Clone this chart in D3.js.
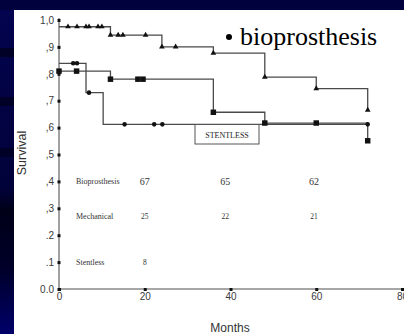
<!DOCTYPE html>
<html>
<head>
<meta charset="utf-8">
<script src="https://cdn.jsdelivr.net/npm/d3@7"></script>
<style>
  html, body { margin: 0; padding: 0; background: #02024f; }
  svg { display: block; }
</style>
</head>
<body>
<svg id="chart" width="404" height="334"></svg>
<script>
// Kaplan-Meier curves
const bioTimes = [0, 12, 24, 36, 48, 60, 72];
const bioSurv = [0.975, 0.944, 0.90, 0.877, 0.788, 0.745, 0.665];
const bioCensor = [2.1, 4.2, 6.3, 7, 9.1, 10, 12, 13.8, 14.9, 20.2, 24, 27.2, 36, 48, 60, 72];

const mechTimes = [0, 12, 36, 48, 72];
const mechSurv = [0.81, 0.78, 0.657, 0.617, 0.551];
const mechCensor = [0, 4.1, 12, 18.4, 19.6, 36, 48, 60, 72];

const stentTimes = [0, 6.3, 10.3, 72];
const stentSurv = [0.839, 0.73, 0.612, 0.612];
const stentCensor = [3.3, 4.2, 7, 15.3, 22.2, 24.1, 72];

const xTicks = [0, 20, 40, 60, 80];
const yTicks = [1, 0.9, 0.8, 0.7, 0.6, 0.5, 0.4, 0.3, 0.2, 0.1, 0];
const yTickLabels = ["1,0", ",9", ",8", ",7", ",6", ",5", ",4", ",3", ".2", ".1", "0.0"];

// patients at risk table
const rowNames = ["Bioprosthesis", "Mechanical", "Stentless"];
const rowLevels = [0.4, 0.27, 0.1];
const atRiskMonths = [20, 38.8, 59.5];
const atRisk = [[67, 65, 62], [25, 22, 21], [8]];

const svg = d3.select("#chart");

// slide background
svg.append("rect").attr("x", 0).attr("y", 0).attr("width", 404).attr("height", 334).attr("fill", "#02024f");
const grad = svg.append("defs").append("linearGradient")
    .attr("id", "side").attr("x1", 0).attr("y1", 0).attr("x2", 0).attr("y2", 1);
grad.append("stop").attr("offset", "0").attr("stop-color", "#03034f");
grad.append("stop").attr("offset", "0.55").attr("stop-color", "#02023a");
grad.append("stop").attr("offset", "0.62").attr("stop-color", "#000018");
grad.append("stop").attr("offset", "0.8").attr("stop-color", "#00002a");
grad.append("stop").attr("offset", "1").attr("stop-color", "#00006a");
svg.append("rect").attr("x", 0).attr("y", 10).attr("width", 14).attr("height", 324).attr("fill", "url(#side)");
svg.append("rect").attr("x", 0).attr("y", 0).attr("width", 404).attr("height", 10).attr("fill", "#01013e");
[48, 97, 148].forEach(y => {
    svg.append("rect").attr("x", 0).attr("y", y).attr("width", 14).attr("height", 9).attr("fill", "#010128");
});
svg.append("rect").attr("x", 14).attr("y", 10).attr("width", 390).attr("height", 324).attr("fill", "#ffffff");

const x = d3.scaleLinear().domain([0, 80]).range([59, 402]);
const y = d3.scaleLinear().domain([0, 1]).range([289, 20]);

// axes
const yAxis = svg.append("g")
    .attr("transform", `translate(${x(0)},0)`)
    .call(d3.axisLeft(y).tickValues(yTicks).tickSize(0).tickPadding(5)
        .tickFormat((d, i) => yTickLabels[i]));
const xAxis = svg.append("g")
    .attr("transform", `translate(0,${y(0)})`)
    .call(d3.axisBottom(x).tickValues(xTicks).tickSize(0).tickPadding(4));
[yAxis, xAxis].forEach(g => {
    g.select(".domain").attr("stroke", "#8a8a8a").attr("stroke-width", 1.6);
    g.selectAll("text")
        .attr("fill", "#3a3a3a")
        .style("font-family", "'Liberation Sans', Arial, sans-serif")
        .style("font-size", "10px");
});
yAxis.select(".domain").attr("d", `M0,${y(1) - 2}V${y(0)}`);
xAxis.select(".domain").attr("d", `M${x(0)},0H${x(80)}`);
yAxis.selectAll(".tick").append("rect")
    .attr("x", -1.5).attr("y", -1.5).attr("width", 3).attr("height", 3).attr("fill", "#111");
xAxis.selectAll(".tick").append("rect")
    .attr("x", -1.5).attr("y", -1).attr("width", 3).attr("height", 3).attr("fill", "#111");

svg.append("text")
    .attr("transform", `translate(26,153) rotate(-90)`)
    .attr("text-anchor", "middle")
    .attr("fill", "#333")
    .style("font-family", "'Liberation Sans', Arial, sans-serif")
    .style("font-size", "12.5px")
    .text("Survival");
svg.append("text")
    .attr("x", 230).attr("y", 332)
    .attr("text-anchor", "middle")
    .attr("fill", "#333")
    .style("font-family", "'Liberation Sans', Arial, sans-serif")
    .style("font-size", "12px")
    .text("Months");

// step curves
const line = d3.line()
    .x(d => x(d[0]))
    .y(d => y(d[1]))
    .curve(d3.curveStepAfter);

function survAt(times, surv, t) {
    const i = d3.bisectRight(times, t) - 1;
    return surv[Math.max(0, i)];
}

const series = [
    { times: bioTimes, surv: bioSurv, censor: bioCensor, symbol: d3.symbolTriangle, size: 14 },
    { times: stentTimes, surv: stentSurv, censor: stentCensor, symbol: d3.symbolCircle, size: 16 },
    { times: mechTimes, surv: mechSurv, censor: mechCensor, symbol: d3.symbolSquare, size: 30 }
];

series.forEach(s => {
    svg.append("path")
        .attr("d", line(s.times.map((t, i) => [t, s.surv[i]])))
        .attr("fill", "none")
        .attr("stroke", "#4a4a4a")
        .attr("stroke-width", 1.3);
});

series.forEach(s => {
    svg.selectAll(null)
        .data(s.censor)
        .enter()
        .append("path")
        .attr("transform", t => `translate(${x(t)},${y(survAt(s.times, s.surv, t))})`)
        .attr("d", d3.symbol().type(s.symbol).size(s.size))
        .attr("fill", "#111");
});

// STENTLESS label box
svg.append("rect")
    .attr("x", 195).attr("y", 124.5).attr("width", 64).attr("height", 19.5)
    .attr("fill", "#fff").attr("stroke", "#555").attr("stroke-width", 1);
svg.append("text")
    .attr("x", 227).attr("y", 137.5)
    .attr("text-anchor", "middle")
    .attr("fill", "#222")
    .style("font-family", "'Liberation Serif', 'Times New Roman', serif")
    .style("font-size", "8px")
    .text("STENTLESS");

// at risk table
rowNames.forEach((name, r) => {
    svg.append("text")
        .attr("x", 76).attr("y", y(rowLevels[r]) + 3)
        .attr("fill", "#333")
        .style("font-family", "'Liberation Serif', 'Times New Roman', serif")
        .style("font-size", "8px")
        .text(name);
    svg.selectAll(null)
        .data(atRisk[r])
        .enter()
        .append("text")
        .attr("x", (d, i) => x(atRiskMonths[i]))
        .attr("y", y(rowLevels[r]) + (r === 0 ? 3.5 : 3))
        .attr("text-anchor", "middle")
        .attr("fill", "#333")
        .style("font-family", "'Liberation Serif', 'Times New Roman', serif")
        .style("font-size", r === 0 ? "10px" : "7.5px")
        .text(d => d);
});

// slide bullet
svg.append("circle").attr("cx", 229).attr("cy", 37).attr("r", 3).attr("fill", "#000");
svg.append("text")
    .attr("x", 240).attr("y", 45)
    .attr("fill", "#000")
    .style("font-family", "'Liberation Serif', 'Times New Roman', serif")
    .style("font-size", "26px")
    .text("bioprosthesis");
</script>
</body>
</html>
